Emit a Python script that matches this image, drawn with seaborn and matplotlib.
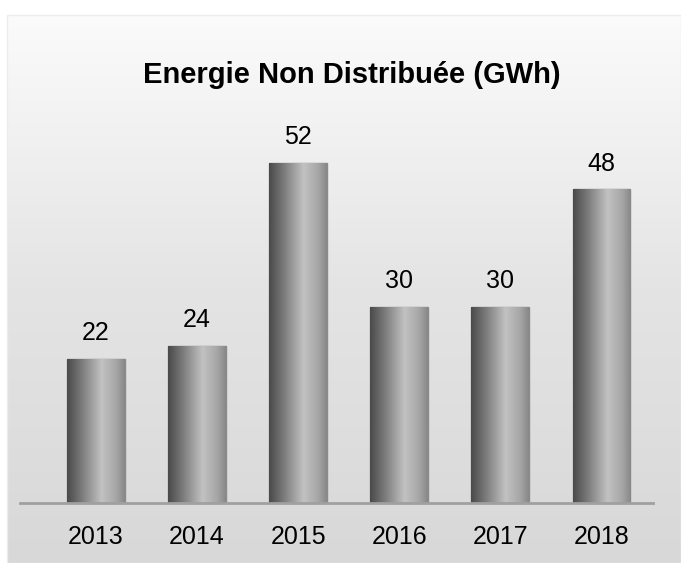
import numpy as np
import pandas as pd
import matplotlib.pyplot as plt
import seaborn as sns
from matplotlib.colors import LinearSegmentedColormap
from matplotlib.patches import Rectangle

years = ['2013', '2014', '2015', '2016', '2017', '2018']
end_gwh = [22, 24, 52, 30, 30, 48]

df = pd.DataFrame({'year': years, 'value': end_gwh})

sns.set_style('white')
plt.rcParams['font.family'] = ['Liberation Sans', 'DejaVu Sans']
plt.rcParams['text.color'] = 'black'
plt.rcParams['xtick.color'] = 'black'

fig = plt.figure(figsize=(6.81, 5.63), dpi=100)

# background panel with vertical gradient
bg = fig.add_axes([0, 0, 1, 1], zorder=-10)
bg.set_xlim(0, 681)
bg.set_ylim(563, 0)
bg.axis('off')
grad = np.linspace(0, 1, 256).reshape(-1, 1)
bg_cmap = LinearSegmentedColormap.from_list('bg', ['#fbfbfb', '#e4e4e4', '#d8d8d8'])
bg.imshow(grad, cmap=bg_cmap, extent=[7, 681, 563, 15], aspect='auto')
bg.add_patch(Rectangle((7, 15), 674, 548, fill=False, edgecolor='#ececec', lw=1))

ax = fig.add_axes([20 / 681, 60 / 563, 633 / 681, 392 / 563])
ax.patch.set_alpha(0)
sns.barplot(data=df, x='year', y='value', ax=ax, width=0.57,
            color='#999999', edgecolor='#8a8a8a', linewidth=1)

# cylinder-like horizontal gradient on each bar
bar_cmap = LinearSegmentedColormap.from_list(
    'bar', [(0, '#4a4a4a'), (0.25, '#7a7a7a'), (0.6, '#c2c2c2'), (0.85, '#a6a6a6'), (1, '#888888')])
hgrad = np.linspace(0, 1, 256).reshape(1, -1)
for p in ax.patches:
    x0, w, h = p.get_x(), p.get_width(), p.get_height()
    im = ax.imshow(hgrad, cmap=bar_cmap, extent=[x0, x0 + w, 0, h], aspect='auto', zorder=p.get_zorder())
    im.set_clip_path(p)
    ax.annotate(f'{h:.0f}', (x0 + w / 2, h), xytext=(0, 10), textcoords='offset points',
                ha='center', va='bottom', fontsize=18)
ax.set_xlim(-0.75, 5.51)
ax.set_ylim(0, 60)

for s in ['top', 'right', 'left']:
    ax.spines[s].set_visible(False)
ax.spines['bottom'].set_color('#a0a0a0')
ax.spines['bottom'].set_linewidth(2)
ax.set_yticks([])
ax.tick_params(axis='x', length=0, pad=16, labelsize=18)
ax.set_xlabel('')
ax.set_ylabel('')

fig.text(352 / 681, 1 - 75 / 563, 'Energie Non Distribuée (GWh)', ha='center', va='center',
         fontsize=21, fontweight='bold')

plt.savefig('out.png', dpi=100)
